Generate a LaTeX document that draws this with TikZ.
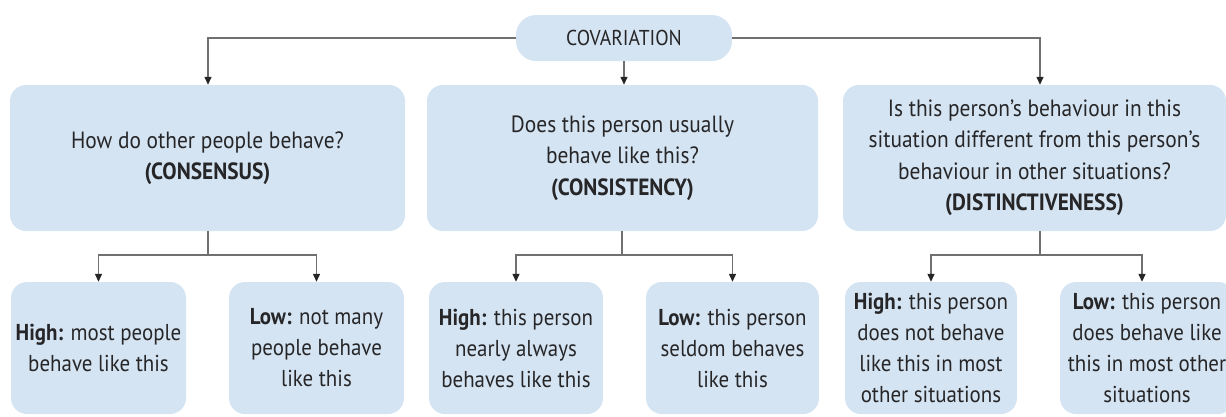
\documentclass[tikz,border=0pt]{standalone}
\usepackage{fontspec}
\setmainfont{PT Sans}[FakeStretch=0.91]
\usetikzlibrary{arrows.meta}
\definecolor{boxblue}{RGB}{213,228,242}
\definecolor{linegray}{RGB}{112,112,112}
\definecolor{txt}{RGB}{38,38,40}
\begin{document}
\begin{tikzpicture}[x=1pt,y=-1pt,
  box/.style={fill=boxblue, rounded corners=16pt, align=center, text=txt,
    font=\fontsize{23.5}{31.5}\selectfont, inner sep=0pt},
  small/.style={box, font=\fontsize{23}{31}\selectfont},
  conn/.style={draw=linegray, line width=1.3pt,
    -{Triangle[length=8pt,width=7pt,color=txt]}},
  link/.style={draw=linegray, line width=1.3pt}]
\useasboundingbox (0,0) rectangle (1226,416);

\node[box, minimum width=216, minimum height=46, rounded corners=20pt, font=\fontsize{21.5}{26}\selectfont] (cov) at (624,38) {COVARIATION};

\node[box, minimum width=395, minimum height=146] (b1) at (207.5,158) {How do other people behave?\\\textbf{(CONSENSUS)}};
\node[box, minimum width=391, minimum height=146] (b2) at (622.5,158) {Does this person usually\\behave like this?\\\textbf{(CONSISTENCY)}};
\node[box, minimum width=383, minimum height=146] (b3) at (1034.5,158) {Is this person’s behaviour in this\\situation different from this person’s\\behaviour in other situations?\\\textbf{(DISTINCTIVENESS)}};

\node[small, minimum width=175, minimum height=132] (c1) at (98.5,348) {\textbf{High:} most people\\behave like this};
\node[small, minimum width=175, minimum height=132] (c2) at (316.5,348) {\textbf{Low:} not many\\people behave\\like this};
\node[small, minimum width=174, minimum height=132] (c3) at (516,348) {\textbf{High:} this person\\nearly always\\behaves like this};
\node[small, minimum width=173, minimum height=132] (c4) at (732.5,348) {\textbf{Low:} this person\\seldom behaves\\like this};
\node[small, minimum width=172, minimum height=132] (c5) at (931,348) {\textbf{High:} this person\\does not behave\\like this in most\\other situations};
\node[small, minimum width=174, minimum height=132] (c6) at (1147,348) {\textbf{Low:} this person\\does behave like\\this in most other\\situations};

% top level connectors
\coordinate (tl) at (208,38);
\coordinate (tr) at (1040,38);
\draw[conn] (cov.west) -- (tl) -- (tl |- b1.north);
\draw[conn] (cov.east) -- (tr) -- (tr |- b3.north);
\draw[conn] (cov.south) -- (cov.south |- b2.north);

% branch connectors
\coordinate (j1) at (208,255);
\coordinate (j2) at (622,255);
\coordinate (j3) at (1040,255);
\coordinate (k6) at (1142,255);
\draw[link] (b1.south -| j1) -- (j1);
\draw[conn] (j1) -| (c1.north);
\draw[conn] (j1) -| (c2.north);
\draw[link] (b2.south -| j2) -- (j2);
\draw[conn] (j2) -| (c3.north);
\draw[conn] (j2) -| (c4.north);
\draw[link] (b3.south -| j3) -- (j3);
\draw[conn] (j3) -| (c5.north);
\draw[conn] (j3) -- (k6) -- (k6 |- c6.north);
\end{tikzpicture}
\end{document}
